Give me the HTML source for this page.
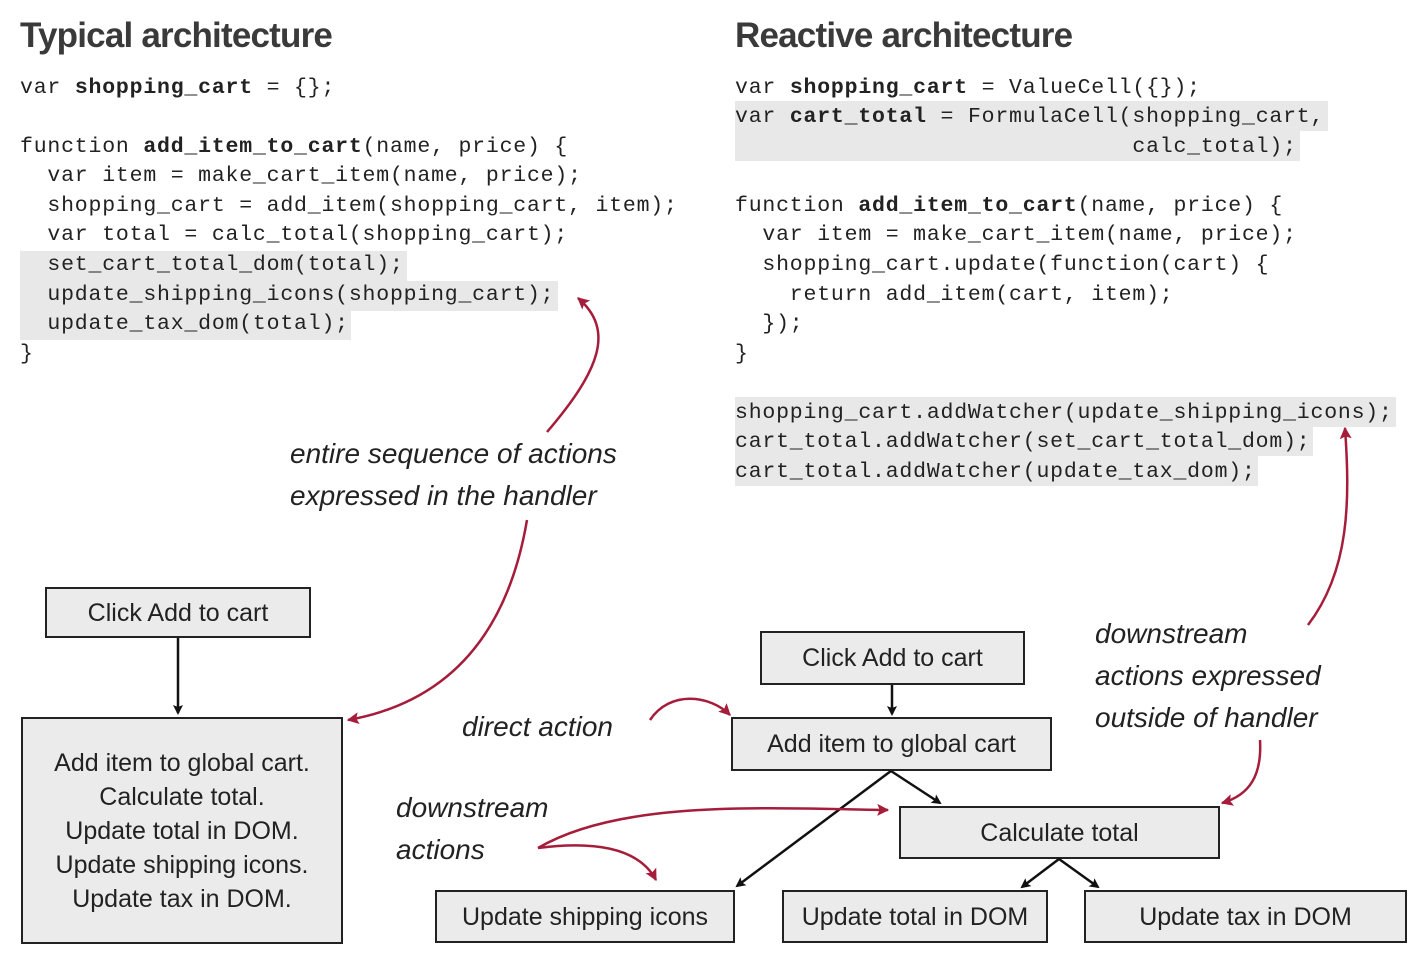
<!DOCTYPE html>
<html><head><meta charset="utf-8"><style>
body{margin:0;width:1420px;height:956px;background:#fff;position:relative;overflow:hidden;font-family:"Liberation Sans",sans-serif;}
.h{position:absolute;top:16px;font-size:35px;font-weight:bold;color:#3a3a3a;letter-spacing:-0.8px}
.c{position:absolute;font-family:"Liberation Mono",monospace;font-size:21.5px;letter-spacing:0.8px;color:#222;white-space:pre;height:29.5px;line-height:29.5px}
.g{background:#e8e8e8}
.c b{font-weight:bold}
.box{position:absolute;background:#ebebeb;border:2.5px solid #222;box-sizing:border-box;display:flex;align-items:center;justify-content:center;text-align:center;font-size:25px;color:#222;line-height:34px}
.hw{position:absolute;font-size:28px;color:#222;white-space:pre;line-height:42px;font-style:italic}
svg{position:absolute;left:0;top:0}
</style></head><body>
<div class="h" style="left:20px">Typical architecture</div>
<div class="h" style="left:735px">Reactive architecture</div>

<div class="c" style="left:20px;top:74px">var <b>shopping_cart</b> = {};</div>
<div class="c" style="left:20px;top:133px">function <b>add_item_to_cart</b>(name, price) {</div>
<div class="c" style="left:20px;top:162px">  var item = make_cart_item(name, price);</div>
<div class="c" style="left:20px;top:192px">  shopping_cart = add_item(shopping_cart, item);</div>
<div class="c" style="left:20px;top:221px">  var total = calc_total(shopping_cart);</div>
<div class="c g" style="left:20px;top:251px;width:387px">  set_cart_total_dom(total);</div>
<div class="c g" style="left:20px;top:281px;width:538px">  update_shipping_icons(shopping_cart);</div>
<div class="c g" style="left:20px;top:310px;width:331px">  update_tax_dom(total);</div>
<div class="c" style="left:20px;top:340px">}</div>

<div class="c" style="left:735px;top:74px">var <b>shopping_cart</b> = ValueCell({});</div>
<div class="c g" style="left:735px;top:101px;width:593px;padding-top:2px;height:27.5px;line-height:29.5px">var <b>cart_total</b> = FormulaCell(shopping_cart,</div>
<div class="c g" style="left:735px;top:131px;width:565px;padding-top:2px;height:27.5px">                             calc_total);</div>
<div class="c" style="left:735px;top:192px">function <b>add_item_to_cart</b>(name, price) {</div>
<div class="c" style="left:735px;top:221px">  var item = make_cart_item(name, price);</div>
<div class="c" style="left:735px;top:251px">  shopping_cart.update(function(cart) {</div>
<div class="c" style="left:735px;top:281px">    return add_item(cart, item);</div>
<div class="c" style="left:735px;top:310px">  });</div>
<div class="c" style="left:735px;top:340px">}</div>
<div class="c g" style="left:735px;top:397px;width:661px;padding-top:2px;height:27.5px">shopping_cart.addWatcher(update_shipping_icons);</div>
<div class="c g" style="left:735px;top:426px;width:578px;padding-top:2px;height:27.5px">cart_total.addWatcher(set_cart_total_dom);</div>
<div class="c g" style="left:735px;top:456px;width:523px;padding-top:2px;height:27.5px">cart_total.addWatcher(update_tax_dom);</div>

<div class="hw" style="left:290px;top:433px">entire sequence of actions
expressed in the handler</div>
<div class="hw" style="left:462px;top:706px">direct action</div>
<div class="hw" style="left:396px;top:787px">downstream
actions</div>
<div class="hw" style="left:1095px;top:613px">downstream
actions expressed
outside of handler</div>

<div class="box" style="left:45px;top:587px;width:266px;height:51px">Click Add to cart</div>
<div class="box" style="left:21px;top:717px;width:322px;height:227px">Add item to global cart.<br>Calculate total.<br>Update total in DOM.<br>Update shipping icons.<br>Update tax in DOM.</div>
<div class="box" style="left:760px;top:631px;width:265px;height:54px">Click Add to cart</div>
<div class="box" style="left:731px;top:717px;width:321px;height:54px">Add item to global cart</div>
<div class="box" style="left:899px;top:806px;width:321px;height:53px">Calculate total</div>
<div class="box" style="left:435px;top:890px;width:300px;height:53px">Update shipping icons</div>
<div class="box" style="left:782px;top:890px;width:266px;height:53px">Update total in DOM</div>
<div class="box" style="left:1084px;top:890px;width:323px;height:53px">Update tax in DOM</div>

<svg width="1420" height="956">
<defs>
<marker id="k" markerWidth="10" markerHeight="10" refX="8" refY="5" orient="auto" markerUnits="userSpaceOnUse" viewBox="0 0 10 10"><path d="M0,0 L10,5 L0,10 L2,5z" fill="#111"/></marker>
<marker id="r" markerWidth="12" markerHeight="12" refX="9" refY="5" orient="auto" markerUnits="userSpaceOnUse" viewBox="0 0 10 10"><path d="M0,0 L10,5 L0,10 L2,5z" fill="#a51d3a"/></marker>
</defs>
<g stroke="#111" stroke-width="2.5" fill="none" marker-end="url(#k)">
<line x1="178" y1="638" x2="178" y2="713"/>
<line x1="892" y1="685" x2="892" y2="714"/>
<line x1="891" y1="771" x2="940" y2="803"/>
<line x1="891" y1="771" x2="737" y2="886"/>
<line x1="1059" y1="859" x2="1022" y2="887"/>
<line x1="1059" y1="859" x2="1098" y2="887"/>
</g>
<g stroke="#a51d3a" stroke-width="2.5" fill="none" marker-end="url(#r)">
<path d="M547,432 C600,370 615,330 578,298"/>
<path d="M527,520 C510,620 460,700 348,720"/>
<path d="M650,720 C670,690 710,695 730,715"/>
<path d="M538,848 C620,800 760,808 888,810"/>
<path d="M538,848 C600,840 640,850 656,880"/>
<path d="M1308,625 C1350,570 1350,500 1345,428"/>
<path d="M1260,740 C1262,775 1250,795 1222,803"/>
</g>
</svg>
</body></html>
